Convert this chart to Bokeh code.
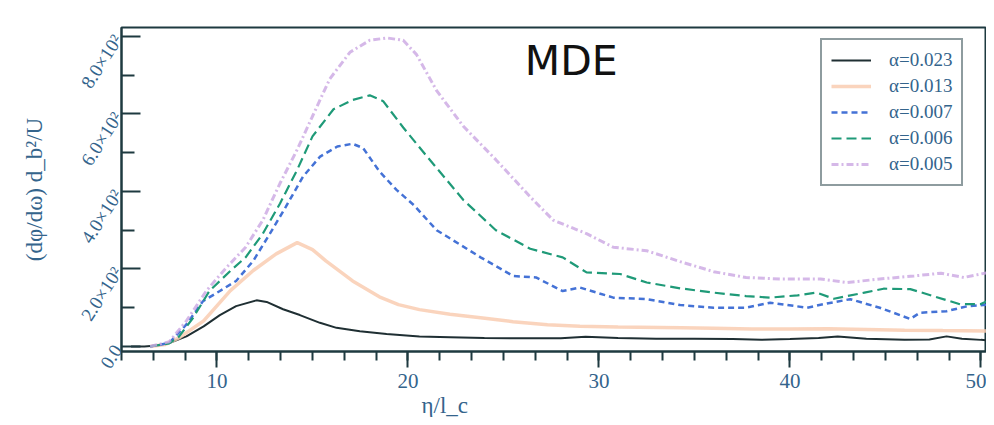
from bokeh.plotting import figure
from bokeh.models import (Legend, LegendItem, FixedTicker, SingleIntervalTicker,
                          Label, Title)
from bokeh.embed import file_html
from bokeh.resources import INLINE

# ---- data ----
x_a023 = [5.5, 6.2, 7.0, 7.5, 8.4, 9.3, 10.15, 11.0, 12.07, 12.6, 13.46, 14.34, 15.39, 16.26,
          17.48, 18.88, 20.6, 22.2, 24, 26, 28, 29.3, 31, 33, 35, 37, 38.5, 40, 41.5, 42.5,
          44, 46, 47.3, 48.2, 49, 50, 50.7]
y_a023 = [0, 0, 3, 9, 26, 52, 81, 104, 119, 115, 96, 81, 61, 48,
          39, 32, 26, 24, 22, 21, 21, 25, 22, 20, 20, 19, 17, 19, 22, 26,
          20, 17, 18, 26, 20, 17, 15]

x_a013 = [6.5, 7.3, 8.0, 9.3, 10.7, 11.9, 13.1, 14.2, 15.0, 15.7, 17.1, 18.5, 19.5, 20.6,
          22.2, 23.8, 25.5, 27.3, 29, 31, 34.3, 36, 38, 40, 42, 44, 46, 48, 50.7]
y_a013 = [0, 5, 22, 66, 144, 196, 239, 268, 250, 221, 169, 128, 108, 95,
          83, 74, 64, 56, 52, 50, 48, 47, 45, 45, 46, 44, 42, 41, 40]

x_a007 = [6.5, 7.5, 8.4, 9.27, 10.15, 11.0, 11.9, 12.77, 13.6, 14.5, 15.4, 16.3, 17.1, 17.65,
          18.5, 19.4, 20.3, 21.5, 22.0, 23.8, 25.5, 26.7, 28.1, 29.0, 30.75, 32.5, 34.25,
          36.0, 37.7, 38.96, 40.9, 41.75, 43.15, 44.7, 46.3, 46.8, 48.2, 49.3, 50.6]
y_a007 = [0, 9, 57, 117, 143, 169, 221, 291, 360, 438, 490, 516, 523, 512,
          452, 404, 365, 300, 285, 230, 182, 178, 143, 152, 126, 122, 107,
          100, 100, 113, 100, 109, 122, 100, 71, 87, 91, 104, 109]

x_a006 = [6.5, 7.5, 8.0, 8.75, 9.6, 10.7, 11.5, 12.4, 13.3, 14.2, 15.0, 16.1, 17.1, 18.0,
          18.7, 19.75, 21.0, 22.9, 24.6, 26.4, 28.1, 29.35, 31.1, 32.5, 34.25, 36.0, 37.7,
          38.96, 40.4, 41.4, 42.3, 43.9, 44.9, 46.3, 47.5, 48.9, 49.96, 50.6]
y_a006 = [0, 8, 25, 74, 143, 195, 230, 291, 369, 456, 542, 612, 636, 648,
          633, 565, 490, 378, 300, 252, 230, 191, 187, 165, 150, 139, 130,
          126, 132, 139, 123, 139, 149, 148, 130, 109, 109, 123]

x_a005 = [6.5, 7.5, 8.4, 9.45, 10.5, 11.5, 12.4, 13.3, 14.2, 15.0, 15.9, 16.96, 18.0, 18.9,
          19.75, 20.45, 21.5, 22.9, 24.6, 26.4, 27.6, 29.35, 30.75, 32.5, 34.25, 36.0, 37.7,
          39.5, 41.6, 43.0, 44.7, 46.5, 47.9, 49.1, 50.6]
y_a005 = [0, 12, 66, 144, 204, 256, 326, 421, 508, 594, 690, 759, 790, 796,
          790, 753, 660, 568, 482, 386, 326, 291, 256, 247, 219, 193, 178,
          174, 174, 165, 174, 182, 189, 178, 193]

series_labels = ["α=0.023", "α=0.013", "α=0.007", "α=0.006", "α=0.005"]

y_ticks = [0, 200, 400, 600, 800]
y_minor = [100, 300, 500, 700]
y_tick_labels = ["0.0", "2.0×10²", "4.0×10²", "6.0×10²", "8.0×10²"]

# ---- styling ----
AX = "#1e3a40"
TXT = "#34648c"
SERIF = "Liberation Serif"

p = figure(width=986, height=417, x_range=(5, 50.29), y_range=(-13, 823),
           output_backend="svg", toolbar_location=None,
           min_border_left=121, min_border_right=0, min_border_top=27, min_border_bottom=20)
p.background_fill_color = "white"
p.border_fill_color = "white"
p.grid.visible = False
p.outline_line_color = AX
p.outline_line_width = 2

r1 = p.line(x_a023, y_a023, line_color="#1f2f33", line_width=2)
r2 = p.line(x_a013, y_a013, line_color="#f9cdb2", line_width=3.5, line_alpha=0.85)
r3 = p.line(x_a007, y_a007, line_color="#4472d6", line_width=2.5, line_dash="6 4")
r4 = p.line(x_a006, y_a006, line_color="#1f9a78", line_width=2.2, line_dash="10 5")
r5 = p.line(x_a005, y_a005, line_color="#cba6e2", line_width=3, line_alpha=0.8,
            line_dash="7 3 2 3")

# x axis
xa = p.xaxis[0]
xa.ticker = SingleIntervalTicker(interval=10, num_minor_ticks=6)
xa.axis_line_color = AX
xa.axis_line_width = 2
xa.major_tick_line_color = AX
xa.minor_tick_line_color = AX
xa.major_tick_line_width = 2
xa.minor_tick_line_width = 2
xa.major_tick_out = 16
xa.major_tick_in = 0
xa.minor_tick_out = 9
xa.minor_tick_in = 0
xa.major_label_text_font = SERIF
xa.major_label_text_font_size = "21px"
xa.major_label_text_color = TXT
xa.major_label_standoff = 6

# y axis
ya = p.yaxis[0]
ya.ticker = FixedTicker(ticks=y_ticks, minor_ticks=y_minor)
ya.major_label_overrides = {t: lab for t, lab in zip(y_ticks, y_tick_labels)}
ya.axis_line_color = AX
ya.axis_line_width = 2
ya.major_tick_line_color = AX
ya.minor_tick_line_color = AX
ya.major_tick_line_width = 2
ya.minor_tick_line_width = 2
ya.major_tick_in = 19
ya.major_tick_out = 0
ya.minor_tick_in = 13
ya.minor_tick_out = 0
ya.major_label_orientation = 1.0
ya.major_label_text_font = SERIF
ya.major_label_text_font_size = "19px"
ya.major_label_text_color = TXT
ya.major_label_standoff = 4
ya.axis_label = "(dφ/dω) d_b²/U"
ya.axis_label_text_font = SERIF
ya.axis_label_text_font_style = "normal"
ya.axis_label_text_font_size = "23px"
ya.axis_label_text_color = TXT
ya.axis_label_standoff = 18

# x label (placed left of centre, as in the reference)
xlabel = Title(text="η/l_c", align="left", offset=300, standoff=0,
               text_font=SERIF, text_font_size="23px", text_font_style="normal",
               text_color=TXT)
p.add_layout(xlabel, "below")

# annotation
p.add_layout(Label(x=28.55, y=737, text="MDE", text_font="DejaVu Sans",
                   text_font_size="41px", text_color="#111111",
                   text_align="center", text_baseline="middle"))

legend = Legend(items=[LegendItem(label=series_labels[i], renderers=[r])
                       for i, r in enumerate([r1, r2, r3, r4, r5])],
                location=(699, 165), margin=0, padding=9, spacing=4,
                label_height=22, glyph_height=22, glyph_width=40, label_standoff=18,
                label_text_font=SERIF, label_text_font_size="19px",
                label_text_color=TXT, border_line_color=AX, border_line_width=2,
                background_fill_color="white", background_fill_alpha=1.0)
p.add_layout(legend)

open("out.html", "w").write(file_html(p, INLINE))
